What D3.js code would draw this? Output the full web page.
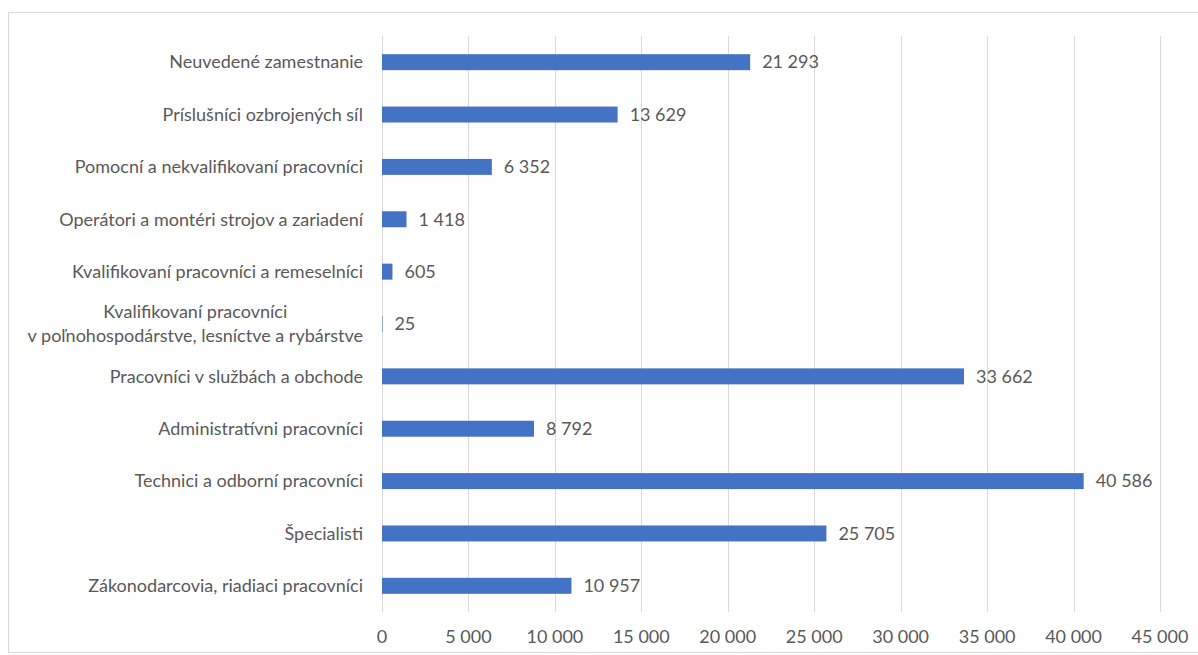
<!DOCTYPE html>
<html>
<head>
<meta charset="utf-8">
<script src="https://cdn.jsdelivr.net/npm/d3@7"></script>
<style>
  body { margin: 0; background: #fff; }
  svg { display: block; font-family: Lato, "Open Sans", sans-serif; }
</style>
</head>
<body>
<svg width="1198" height="655"></svg>
<script>
// kategórie zdola nahor (ako v grafe)
const categories = [
    'Zákonodarcovia, riadiaci pracovníci',
    'Špecialisti',
    'Technici a odborní pracovníci',
    'Administratívni pracovníci',
    'Pracovníci v službách a obchode',
    'Kvalifikovaní pracovníci\nv poľnohospodárstve, lesníctve a rybárstve',
    'Kvalifikovaní pracovníci a remeselníci',
    'Operátori a montéri strojov a zariadení',
    'Pomocní a nekvalifikovaní pracovníci',
    'Príslušníci ozbrojených síl',
    'Neuvedené zamestnanie'
];
const values = [10957, 25705, 40586, 8792, 33662, 25, 605, 1418, 6352, 13629, 21293];
const xTicks = [0, 5000, 10000, 15000, 20000, 25000, 30000, 35000, 40000, 45000];

const svg = d3.select('svg');
const textColor = '#595959';
const fs = 18;

// rámček
svg.append('rect')
    .attr('x', 8.5).attr('y', 12.5)
    .attr('width', 1198).attr('height', 640)
    .attr('fill', 'none').attr('stroke', '#d9d9d9');

const x = d3.scaleLinear().domain([0, 45000]).range([382, 1160]);
const y = d3.scaleBand()
    .domain(d3.range(categories.length).reverse())
    .range([36, 612])
    .paddingInner(0.695).paddingOuter(0.3475);

const fmt = d3.formatLocale({decimal: ',', thousands: '\u00a0', grouping: [3], currency: ['', '']}).format(',d');

// mriežka
svg.append('g').selectAll('line').data(xTicks).join('line')
    .attr('x1', d => Math.round(x(d)) + 0.5).attr('x2', d => Math.round(x(d)) + 0.5)
    .attr('y1', 36).attr('y2', 612)
    .attr('stroke', '#d9d9d9').attr('stroke-width', 1);

// popisy osi x
svg.append('g').selectAll('text').data(xTicks).join('text')
    .attr('x', d => x(d)).attr('y', 643)
    .attr('text-anchor', 'middle')
    .attr('font-size', fs).attr('fill', textColor)
    .text(d => fmt(d));

// stĺpce
svg.append('g').selectAll('rect').data(values).join('rect')
    .attr('x', x(0))
    .attr('y', (d, i) => y(i))
    .attr('width', d => x(d) - x(0))
    .attr('height', y.bandwidth())
    .attr('fill', '#4472c4');

// hodnoty
svg.append('g').selectAll('text').data(values).join('text')
    .attr('x', d => x(d) + 12)
    .attr('y', (d, i) => y(i) + y.bandwidth() / 2)
    .attr('dy', '0.35em')
    .attr('font-size', fs).attr('fill', textColor)
    .text(d => fmt(d));

// kategórie
const labels = svg.append('g').selectAll('text').data(categories).join('text')
    .attr('x', 363)
    .attr('y', (d, i) => y(i) + y.bandwidth() / 2)
    .attr('text-anchor', 'end')
    .attr('font-size', fs).attr('fill', textColor);

labels.each(function(d) {
    const lines = d.split('\n');
    const t = d3.select(this);
    lines.forEach((line, k) => {
        t.append('tspan')
            .attr('x', 363)
            .attr('dy', k === 0 ? (0.35 - (lines.length - 1) * 0.667) + 'em' : '1.333em')
            .text(line);
    });
});
// prvý riadok dvojriadkového popisu je centrovaný voči druhému
labels.filter(d => d.includes('\n')).each(function() {
    const spans = d3.select(this).selectAll('tspan').nodes();
    const w0 = spans[0].getComputedTextLength();
    const w1 = spans[1].getComputedTextLength();
    d3.select(spans[0]).attr('x', 363 - (w1 - w0) / 2);
});
</script>
</body>
</html>
